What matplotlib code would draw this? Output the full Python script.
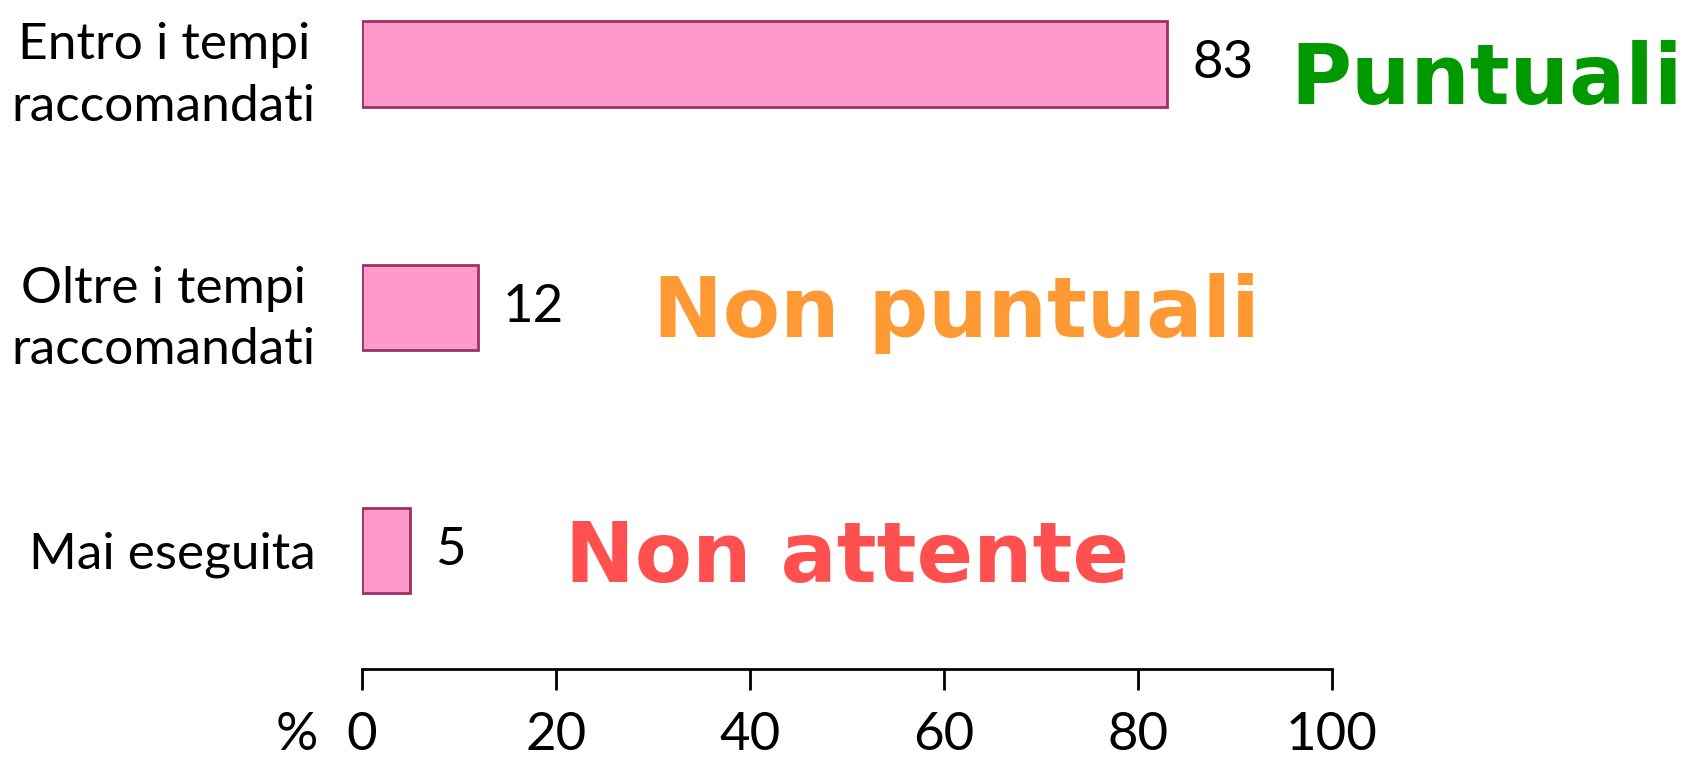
import matplotlib
matplotlib.use("Agg")
import matplotlib.pyplot as plt
import matplotlib.transforms as mtransforms

categories = ["Entro i tempi\nraccomandati", "Oltre i tempi\nraccomandati", "Mai eseguita"]
values = [83, 12, 5]
xticks = [0, 20, 40, 60, 80, 100]
group_labels = ["Puntuali", "Non puntuali", "Non attente"]
group_colors = ["#009900", "#FF9933", "#FF5050"]
group_x = [95.7, 30.0, 21.0]
group_y = [0.165, 1.123, 2.132]

plt.rcParams['font.family'] = ['Lato', 'DejaVu Sans']

fig = plt.figure(figsize=(16.87, 7.58), dpi=100)
ax = fig.add_axes([0.2143, 0.1174, 0.5753, 0.8826])

ypos = list(range(len(categories)))
ax.barh(ypos, values, height=0.35, color="#FF99CC", edgecolor="#993366", linewidth=2)

ax.set_xlim(0, 100)
ax.set_ylim(2.488, -0.263)

for s in ["top", "right", "left"]:
    ax.spines[s].set_visible(False)
ax.spines["bottom"].set_linewidth(2)

ax.set_xticks(xticks)
ax.set_xticklabels([str(t) for t in xticks], fontsize=38)
ax.tick_params(axis="x", length=15, width=2, pad=16, direction="out")

ax.set_yticks(ypos)
ax.set_yticklabels(categories, fontsize=37, multialignment="center", linespacing=1.42)
ax.tick_params(axis="y", length=0, pad=33)

pct = ax.text(-4.5, 2.488, "%", fontsize=38, ha="right", va="top", clip_on=False)
pct.set_transform(ax.transData + mtransforms.ScaledTranslation(0, -31/72, fig.dpi_scale_trans))

for y, v in zip(ypos, values):
    ax.annotate(str(v), xy=(v, y), xytext=(18, 0), textcoords="offset points",
                fontsize=38, ha="left", va="center")

for lab, col, x, yb in zip(group_labels, group_colors, group_x, group_y):
    ax.text(x, yb, lab, color=col, fontsize=60, fontweight="bold",
            family="DejaVu Sans", ha="left", va="baseline", clip_on=False)

fig.savefig("out.png", dpi=100)
